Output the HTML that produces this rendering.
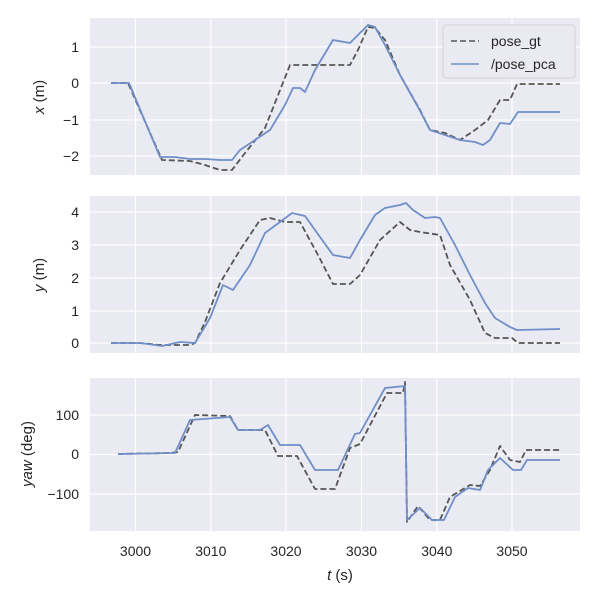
<!DOCTYPE html>
<html><head><meta charset="utf-8"><style>body{margin:0;background:#fff}svg{display:block}text{font-family:"Liberation Sans","DejaVu Sans",sans-serif;fill:#262626;font-size:14px}</style></head><body>
<svg width="600" height="593" viewBox="0 0 600 593" xmlns="http://www.w3.org/2000/svg">
<g>
<rect x="90" y="18" width="490" height="157" fill="#EAEAF2"/>
<rect x="90" y="196" width="490" height="157" fill="#EAEAF2"/>
<rect x="90" y="378" width="490" height="153" fill="#EAEAF2"/>
<g stroke="#fff" stroke-width="1.2">
<line x1="135.5" y1="18" x2="135.5" y2="175"/><line x1="210.8" y1="18" x2="210.8" y2="175"/><line x1="286" y1="18" x2="286" y2="175"/><line x1="361.5" y1="18" x2="361.5" y2="175"/><line x1="436.8" y1="18" x2="436.8" y2="175"/><line x1="512" y1="18" x2="512" y2="175"/>
<line x1="90" y1="47" x2="580" y2="47"/><line x1="90" y1="83" x2="580" y2="83"/><line x1="90" y1="120" x2="580" y2="120"/><line x1="90" y1="156" x2="580" y2="156"/>
<line x1="135.5" y1="196" x2="135.5" y2="353"/><line x1="210.8" y1="196" x2="210.8" y2="353"/><line x1="286" y1="196" x2="286" y2="353"/><line x1="361.5" y1="196" x2="361.5" y2="353"/><line x1="436.8" y1="196" x2="436.8" y2="353"/><line x1="512" y1="196" x2="512" y2="353"/>
<line x1="90" y1="212" x2="580" y2="212"/><line x1="90" y1="245" x2="580" y2="245"/><line x1="90" y1="278" x2="580" y2="278"/><line x1="90" y1="311" x2="580" y2="311"/><line x1="90" y1="343" x2="580" y2="343"/>
<line x1="135.5" y1="378" x2="135.5" y2="531"/><line x1="210.8" y1="378" x2="210.8" y2="531"/><line x1="286" y1="378" x2="286" y2="531"/><line x1="361.5" y1="378" x2="361.5" y2="531"/><line x1="436.8" y1="378" x2="436.8" y2="531"/><line x1="512" y1="378" x2="512" y2="531"/>
<line x1="90" y1="415" x2="580" y2="415"/><line x1="90" y1="454.5" x2="580" y2="454.5"/><line x1="90" y1="494" x2="580" y2="494"/>
</g>
<g fill="none" stroke-width="1.8" stroke-linejoin="round">
<polyline stroke="#555" stroke-dasharray="6,3" points="111,83 128,83 162,160 190,161 205,165 220,170 232,170 245,153 265,128 290,65 350,65 358,50 368,27 375,28 385,40 400,75 420,110 430,130 445,133 460,140 475,130 488,120 500,100 510,100 517,84 560,84"/>
<polyline stroke="#6F8FC8" points="111,83 129,83 160,157 175,157 190,159 205,159 220,160 232,160 240,150 255,140 270,130 285,105 293,88 300,88 305,92 315,70 333,40 350,43 360,33 368,25 375,27 385,45 400,75 418,107 430,130 445,135 460,140 475,142 483,145 490,140 500,123 510,124 518,112 560,112"/>
<polyline stroke="#555" stroke-dasharray="6,3" points="111,343 140,343 160,345 190,345 195,343 205,322 220,283 240,250 260,220 270,218 285,222 300,222 318,255 333,284 350,284 360,275 380,240 400,222 410,230 420,232 440,235 450,265 470,300 485,333 495,338 512,338 518,343 560,343"/>
<polyline stroke="#6F8FC8" points="111,343 140,343 155,345 162,346 180,342 195,343 210,318 223,285 233,290 250,265 265,233 280,222 292,213 305,216 320,237 333,255 350,258 360,240 375,215 385,208 400,205 406,203 413,210 425,218 435,217 440,218 455,245 470,275 485,303 495,318 510,327 517,330 560,329"/>
<polyline stroke="#555" stroke-dasharray="6,3" points="118,454 170,453 178,452 195,415 230,416 238,430 265,430 278,456 297,456 315,489 335,489 350,448 360,444 387,393 403,393 405,382 407,522 418,506 430,520 440,520 450,497 470,485 480,486 490,470 500,446 510,460 520,462 526,450 560,450"/>
<polyline stroke="#6F8FC8" points="118,454 175,453 190,420 230,417 238,430 260,430 268,425 280,445 300,445 315,470 338,470 355,434 360,433 385,388 405,386 407,520 420,508 432,520 444,520 455,497 468,488 480,490 488,470 500,458 513,470 521,470 527,460 560,460"/>
</g>
<g text-anchor="end">
<text x="79" y="52">1</text><text x="79" y="88">0</text><text x="79" y="125">−1</text><text x="79" y="161">−2</text>
<text x="79" y="217">4</text><text x="79" y="250">3</text><text x="79" y="283">2</text><text x="79" y="316">1</text><text x="79" y="348">0</text>
<text x="79" y="420">100</text><text x="79" y="459">0</text><text x="79" y="499">−100</text>
</g>
<g text-anchor="middle">
<text x="135.5" y="556">3000</text><text x="210.8" y="556">3010</text><text x="286" y="556">3020</text><text x="361.5" y="556">3030</text><text x="436.8" y="556">3040</text><text x="512" y="556">3050</text>
<text x="340" y="580" style="font-size:15px"><tspan font-style="italic">t</tspan> (s)</text>
<text transform="translate(44,97) rotate(-90)" style="font-size:15px"><tspan font-style="italic">x</tspan> (m)</text>
<text transform="translate(44,275) rotate(-90)" style="font-size:15px"><tspan font-style="italic">y</tspan> (m)</text>
<text transform="translate(32,454) rotate(-90)" style="font-size:15px"><tspan font-style="italic">yaw</tspan> (deg)</text>
</g>
<rect x="443" y="25" width="132" height="53" rx="3" fill="#EAEAF2" stroke="#ccc" stroke-opacity="0.8"/>
<line x1="451" y1="41" x2="479" y2="41" stroke="#555" stroke-width="1.6" stroke-dasharray="6,3"/>
<line x1="451" y1="64" x2="479" y2="64" stroke="#6F8FC8" stroke-width="1.6"/>
<text x="491" y="46">pose_gt</text><text x="491" y="69">/pose_pca</text>
</g>
</svg>
</body></html>
